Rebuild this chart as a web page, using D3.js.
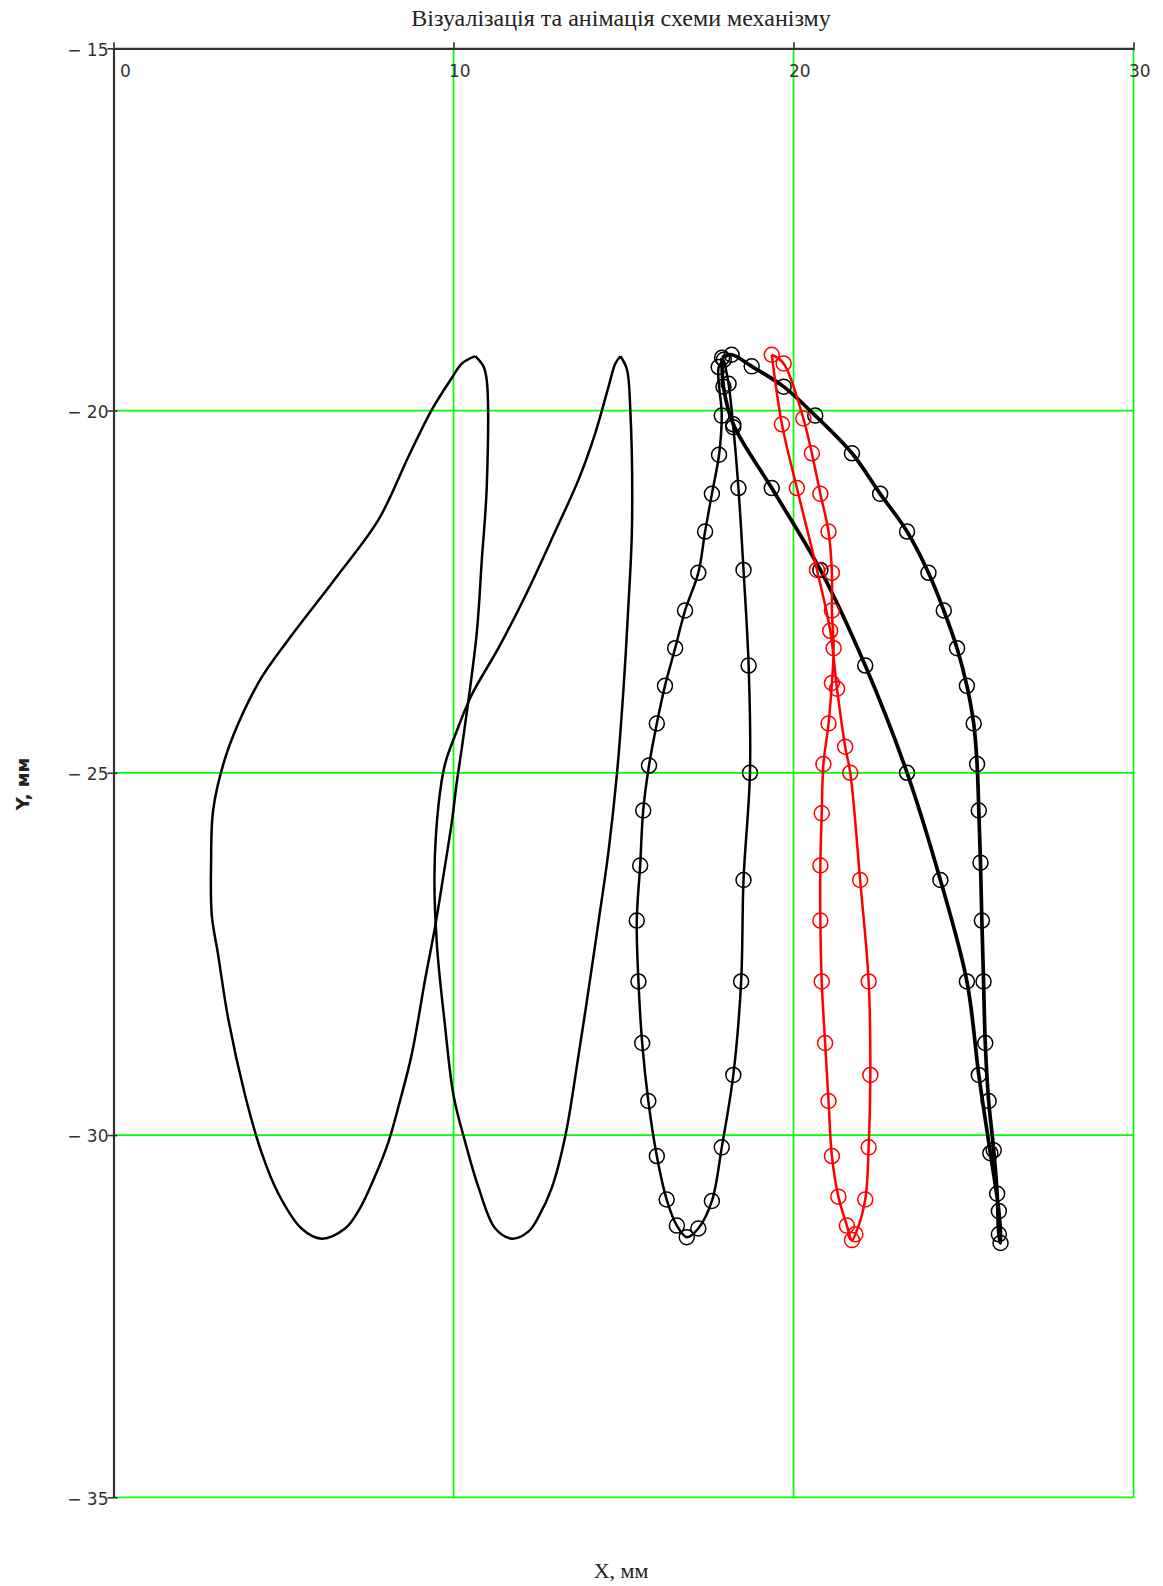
<!DOCTYPE html>
<html>
<head>
<meta charset="utf-8">
<script src="https://cdn.jsdelivr.net/npm/d3@7"></script>
<style>
  body { margin: 0; background: #fff; }
</style>
</head>
<body>
<div id="vis"></div>
<script>
// tick values for both axes
var xTicks = [0, 10, 20, 30];
var yTicks = [-15, -20, -25, -30, -35];

// loop 1 - plain black trajectory, no markers
var loop1X = [10.64,10.88,10.98,10.98,10.83,10.69,10.44,10.25,10.10,9.95,9.71,9.46,9.17,8.77,8.38,8.09,7.69,7.20,6.81,6.12,5.53,4.85,4.36,3.87,3.38,3.08,2.89,2.87,2.93,3.23,3.67,4.36,5.34,6.52,7.79,8.68,9.36,9.95,10.25,10.64];
var loop1Y = [-19.25,-19.39,-19.59,-21.03,-22.08,-23.04,-24.0,-24.64,-25.12,-25.68,-26.40,-27.12,-27.84,-28.89,-29.61,-30.09,-30.57,-31.05,-31.29,-31.43,-31.29,-30.81,-30.25,-29.45,-28.41,-27.52,-26.96,-26.24,-25.52,-24.88,-24.32,-23.68,-23.04,-22.32,-21.51,-20.63,-19.99,-19.55,-19.35,-19.25];

// loop 2 - plain black trajectory, no markers
var loop2X = [14.91,15.10,15.20,15.25,15.15,15.0,14.81,14.56,14.27,13.97,13.68,13.29,12.89,12.50,12.21,11.72,11.23,10.74,10.34,10.0,9.75,9.51,9.44,9.56,9.75,10.05,10.54,11.32,12.11,12.99,13.68,14.17,14.56,14.76,14.91];
var loop2Y = [-19.25,-19.43,-19.99,-21.59,-22.64,-23.84,-25.0,-26.08,-27.04,-28.0,-28.89,-30.01,-30.73,-31.13,-31.33,-31.43,-31.29,-30.73,-30.09,-29.45,-28.49,-27.36,-26.40,-25.44,-24.88,-24.48,-23.92,-23.28,-22.56,-21.67,-20.95,-20.31,-19.67,-19.35,-19.25];

// loop 3 - black with circle markers
var loop3X = [17.95,17.80,17.89,17.81,17.60,17.40,17.20,16.81,16.52,16.22,15.98,15.75,15.58,15.49,15.39,15.44,15.55,15.73,15.98,16.27,16.57,16.86,17.20,17.60,17.89,18.23,18.46,18.53,18.72,18.68,18.53,18.38,18.23,18.09,17.95];
var loop3Y = [-19.30,-19.40,-20.07,-20.61,-21.15,-21.67,-22.24,-22.76,-23.28,-23.80,-24.32,-24.90,-25.52,-26.28,-27.04,-27.88,-28.73,-29.53,-30.29,-30.89,-31.25,-31.41,-31.29,-30.91,-30.17,-29.17,-27.88,-26.48,-25.0,-23.52,-22.20,-21.07,-20.23,-19.63,-19.30];

// loop 4 - thick black with circle markers
var loop4X = [17.90,18.18,18.77,19.71,20.64,21.72,22.55,23.34,23.97,24.42,24.81,25.10,25.30,25.40,25.45,25.50,25.54,25.59,25.64,25.74,25.89,25.99,26.04,26.09,26.04,25.79,25.45,25.10,24.32,23.34,22.11,20.79,19.36,18.23,17.94,17.90];
var loop4Y = [-19.27,-19.23,-19.39,-19.67,-20.07,-20.59,-21.15,-21.67,-22.24,-22.76,-23.28,-23.80,-24.32,-24.88,-25.52,-26.24,-27.04,-27.88,-28.73,-29.53,-30.21,-30.81,-31.37,-31.49,-31.05,-30.25,-29.17,-27.88,-26.48,-25.0,-23.52,-22.20,-21.07,-20.19,-19.67,-19.27];

// loop 5 - red with circle markers
var loop5X = [19.36,19.66,20.10,20.69,21.08,21.28,21.52,21.67,21.96,22.21,22.26,22.21,22.11,21.82,21.72,21.57,21.32,21.13,21.03,20.93,20.83,20.79,20.79,20.83,20.88,21.03,21.13,21.18,21.13,21.13,21.03,20.79,20.54,20.29,19.71,19.36];
var loop5Y = [-19.23,-20.19,-21.07,-22.20,-23.04,-23.84,-24.64,-25.0,-26.48,-27.88,-29.17,-30.17,-30.89,-31.37,-31.45,-31.25,-30.85,-30.29,-29.53,-28.73,-27.88,-27.04,-26.28,-25.56,-24.88,-24.32,-23.76,-23.28,-22.76,-22.24,-21.67,-21.15,-20.59,-20.11,-19.35,-19.23];

var width = 1163, height = 1586;
// plot box edges (window.top is reserved, so prefixed names)
var plotLeft = 113.5, plotRight = 1133.5, plotTop = 48.3, plotBottom = 1497.3;

var xScale = d3.scaleLinear().domain([0, 30]).range([plotLeft, plotRight]);
var yScale = d3.scaleLinear().domain([-15, -35]).range([plotTop, plotBottom]);

var svg = d3.select("#vis").append("svg")
    .attr("width", width).attr("height", height)
    .style("background", "#fff");

// green grid lines (the axis edges are drawn black later)
svg.selectAll("line.gx")
    .data(xTicks.filter(function(d){ return d != 0; }))
    .enter().append("line")
    .attr("class", "gx")
    .attr("x1", function(d){ return xScale(d); })
    .attr("x2", function(d){ return xScale(d); })
    .attr("y1", plotTop).attr("y2", plotBottom)
    .attr("stroke", "#00ff00").attr("stroke-width", 1.7);

svg.selectAll("line.gy")
    .data(yTicks.filter(function(d){ return d != -15; }))
    .enter().append("line")
    .attr("class", "gy")
    .attr("x1", plotLeft).attr("x2", plotRight)
    .attr("y1", function(d){ return yScale(d); })
    .attr("y2", function(d){ return yScale(d); })
    .attr("stroke", "#00ff00").attr("stroke-width", 1.7);

// line generator, smooth through the points
var line = d3.line()
    .x(function(p){ return xScale(p[0]); })
    .y(function(p){ return yScale(p[1]); })
    .curve(d3.curveCatmullRom);

function drawLoop(xs, ys, color, lw, markers) {
    var pts = xs.map(function(x, i){ return [x, ys[i]]; });
    svg.append("path")
        .datum(pts)
        .attr("d", line)
        .attr("fill", "none")
        .attr("stroke", color)
        .attr("stroke-width", lw)
        .attr("stroke-linejoin", "round");
    if (markers) {
        svg.append("g").selectAll("circle")
            .data(pts.slice(0, pts.length - 1)).enter().append("circle")
            .attr("cx", function(p){ return xScale(p[0]); })
            .attr("cy", function(p){ return yScale(p[1]); })
            .attr("r", 7.5)
            .attr("fill", "none")
            .attr("stroke", color)
            .attr("stroke-width", 1.5);
    }
}

drawLoop(loop1X, loop1Y, "#000", 2.5, false);
drawLoop(loop2X, loop2Y, "#000", 2.5, false);
drawLoop(loop3X, loop3Y, "#000", 2.5, true);
drawLoop(loop4X, loop4Y, "#000", 3.7, true);
drawLoop(loop5X, loop5Y, "#ff0000", 2.5, true);

// top axis, labels sit below the line
var xAxis = d3.axisTop(xScale).tickValues(xTicks).tickSizeInner(6).tickSizeOuter(0);
var gx = svg.append("g").attr("transform", "translate(0," + plotTop + ")").call(xAxis);
gx.select(".domain").attr("stroke", "#333").attr("stroke-width", 2.2);
gx.selectAll(".tick line").attr("stroke", "#333").attr("stroke-width", 1.6).attr("y1", 2);
gx.selectAll(".tick text")
    .attr("y", 29).attr("dy", 0)
    .attr("x", function(d){ return d == 0 ? 6 : -5; })
    .attr("text-anchor", "start")
    .attr("fill", "#333")
    .style("font-family", "DejaVu Sans")
    .style("font-size", "17px");

// left axis
var yAxis = d3.axisLeft(yScale).tickValues(yTicks).tickSizeInner(6).tickSizeOuter(0).tickPadding(0)
    .tickFormat(function(d){ return "\u2212 " + Math.abs(d); });
var gy = svg.append("g").attr("transform", "translate(" + plotLeft + ",0)").call(yAxis);
gy.select(".domain").attr("stroke", "#333").attr("stroke-width", 2.2);
gy.selectAll(".tick line").attr("stroke", "#333").attr("stroke-width", 1.6).attr("x1", 4);
gy.selectAll(".tick text")
    .attr("x", -5).attr("dy", "0.4em")
    .attr("fill", "#333")
    .style("font-family", "DejaVu Sans")
    .style("font-size", "17px");

// title
svg.append("text")
    .attr("x", 621).attr("y", 26)
    .attr("text-anchor", "middle")
    .style("font-family", "Liberation Serif")
    .style("font-size", "24px")
    .attr("fill", "#222")
    .text("Візуалізація та анімація схеми механізму");

// X label
svg.append("text")
    .attr("x", 621).attr("y", 1578)
    .attr("text-anchor", "middle")
    .style("font-family", "Liberation Serif")
    .style("font-size", "22px")
    .attr("fill", "#222")
    .text("X, мм");

// Y label, rotated
svg.append("text")
    .attr("transform", "translate(29,784) rotate(-90)")
    .attr("text-anchor", "middle")
    .style("font-family", "DejaVu Sans")
    .style("font-weight", "bold")
    .style("font-size", "18px")
    .attr("fill", "#222")
    .text("Y, мм");
</script>
</body>
</html>
